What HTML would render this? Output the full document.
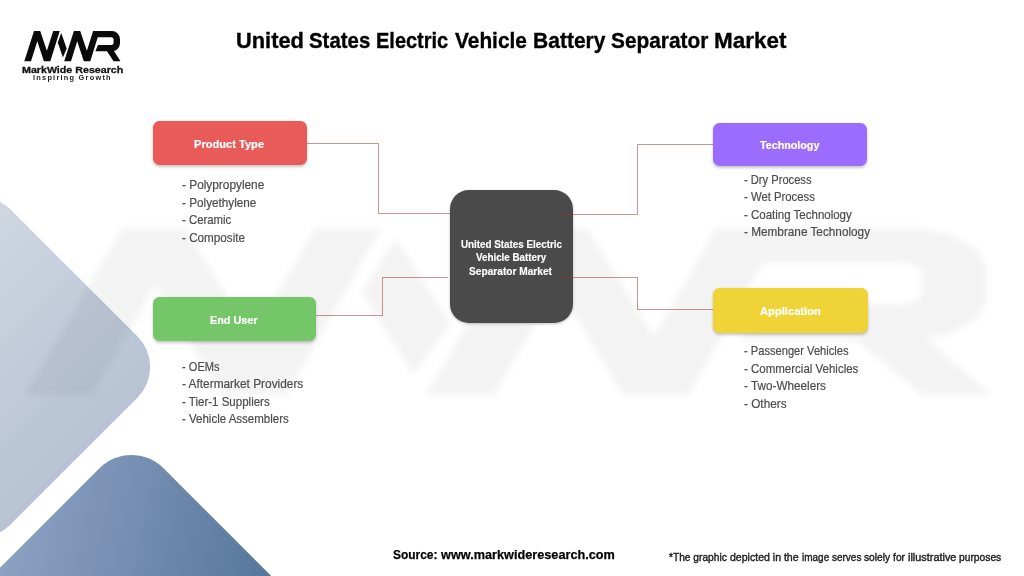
<!DOCTYPE html>
<html><head><meta charset="utf-8"><title>United States Electric Vehicle Battery Separator Market</title>
<style>
html,body{margin:0;padding:0;}
body{width:1024px;height:576px;position:relative;overflow:hidden;background:#fff;font-family:"Liberation Sans",sans-serif;}
.t{position:absolute;white-space:nowrap;transform-origin:0 50%;display:block;line-height:1;}
.box{position:absolute;border-radius:6.5px;box-shadow:0 1.5px 3px rgba(0,0,0,.22);}
svg{position:absolute;left:0;top:0;}
</style></head><body>
<svg width="1024" height="576" viewBox="0 0 1024 576">
 <defs>
  <linearGradient id="gl" x1="0" y1="200" x2="170" y2="370" gradientUnits="userSpaceOnUse">
   <stop offset="0" stop-color="#d0d7e1"/><stop offset="1" stop-color="#b6c2d3"/>
  </linearGradient>
  <linearGradient id="gd" gradientUnits="userSpaceOnUse" x1="0" y1="500" x2="280" y2="560">
   <stop offset="0" stop-color="#90a3c4"/><stop offset="1" stop-color="#56759b"/>
  </linearGradient>
  <filter id="bl" filterUnits="userSpaceOnUse" x="0" y="200" width="1024" height="230"><feGaussianBlur stdDeviation="3.5"/></filter>
  <g id="mwr">
   <polygon points="24.3,61.2 34,31.1 40.2,31.1 46.9,50.7 53.2,31.1 59.75,31.1 50.3,61.2 43.9,61.2 37.3,41.3 31.0,61.2"/>
   <polygon points="61.2,33.0 66.7,48.5 62.9,57.4 57.8,42.6"/>
   <polygon points="64.2,61.2 73.9,31.1 80.2,31.1 86.9,50.7 93.1,31.1 99.7,31.1 90.3,61.2 83.8,61.2 77.2,41.3 71.0,61.2"/>
   <path d="M96.6,37.25 H111.1 A2.5,2.5 0 0 1 113.6,39.75 V42.4 A2.5,2.5 0 0 1 111.1,44.9 H98 L95.4,51.3 H112 A8,8 0 0 0 120,43.3 V39.1 A8,8 0 0 0 112,31.1 H98.5 Z"/>
   <polygon points="103.7,46.3 113.6,61.2 120.5,61.2 110.9,46.3"/>
  </g>
 </defs>
 <!-- left decorative diamonds -->
 <clipPath id="cl"><rect x="-133" y="-133" width="266" height="266" rx="43" transform="translate(-20.1,367) rotate(45)"/></clipPath>
 <rect x="0" y="180" width="180" height="380" fill="url(#gl)" clip-path="url(#cl)"/>
 <clipPath id="cd"><rect x="-150" y="-150" width="300" height="300" rx="45" transform="translate(131.5,648.4) rotate(45)"/></clipPath>
 <rect x="0" y="430" width="300" height="146" fill="url(#gd)" clip-path="url(#cd)"/>
 <!-- watermark -->
 <g filter="url(#bl)"><g fill="#000" opacity="0.046" transform="translate(24,228) scale(10.05,5.55) translate(-24.2,-31.1)"><use href="#mwr"/></g></g>
 <!-- logo -->
 <g fill="#0a0a0a"><use href="#mwr"/></g>
</svg>
<div class="box" style="left:152.7px;top:121.4px;width:154px;height:43.2px;background:#e85b59"></div>
<div class="box" style="left:713.2px;top:122.7px;width:153.6px;height:43.2px;background:#9c6cff"></div>
<div class="box" style="left:152.7px;top:296.9px;width:163px;height:44px;background:#75c669"></div>
<div class="box" style="left:712.7px;top:288.3px;width:155px;height:44.4px;background:#efd337"></div>
<div class="box" style="left:450px;top:190.4px;width:123px;height:133px;background:#4a4a4a;border-radius:19px;box-shadow:0 1px 3px rgba(0,0,0,.25)"></div>
<svg width="1024" height="576" viewBox="0 0 1024 576" fill="none" stroke="rgb(160,50,50)" stroke-opacity="0.52" stroke-width="1" shape-rendering="crispEdges">
 <path d="M306.7,143.5 H378.5 V213.5 H450"/>
 <path d="M315.7,315.5 H382.5 V277.5 H448"/>
 <path d="M560,214.5 H637.5 V144.5 H713.2"/>
 <path d="M560,277.5 H637.5 V309.5 H712.7"/>
</svg>
<span class="t" id="t0" style="left:236.02px;top:30.07px;font-size:22.62px;font-weight:700;color:#000;-webkit-text-stroke:0.35px #000;transform:scaleX(0.9654)">United</span>
<span class="t" id="t1" style="left:309.23px;top:30.07px;font-size:22.62px;font-weight:700;color:#000;-webkit-text-stroke:0.35px #000;transform:scaleX(0.9026)">States</span>
<span class="t" id="t2" style="left:376.01px;top:30.07px;font-size:22.62px;font-weight:700;color:#000;-webkit-text-stroke:0.35px #000;transform:scaleX(0.8842)">Electric</span>
<span class="t" id="t3" style="left:455.09px;top:30.07px;font-size:22.62px;font-weight:700;color:#000;-webkit-text-stroke:0.35px #000;transform:scaleX(0.9231)">Vehicle</span>
<span class="t" id="t4" style="left:532.78px;top:30.07px;font-size:22.62px;font-weight:700;color:#000;-webkit-text-stroke:0.35px #000;transform:scaleX(0.9300)">Battery</span>
<span class="t" id="t5" style="left:611.23px;top:30.07px;font-size:22.62px;font-weight:700;color:#000;-webkit-text-stroke:0.35px #000;transform:scaleX(0.9212)">Separator</span>
<span class="t" id="t6" style="left:714.12px;top:30.07px;font-size:22.62px;font-weight:700;color:#000;-webkit-text-stroke:0.35px #000;transform:scaleX(0.9928)">Market</span>
<span class="t" id="b1" style="left:194.06px;top:139.08px;font-size:11.00px;font-weight:700;color:#fff;-webkit-text-stroke:0.2px #fff;transform:scaleX(1.0083)">Product Type</span>
<span class="t" id="b2" style="left:760.07px;top:140.08px;font-size:11.00px;font-weight:700;color:#fff;-webkit-text-stroke:0.2px #fff;transform:scaleX(0.9746)">Technology</span>
<span class="t" id="b3" style="left:210.09px;top:315.08px;font-size:11.00px;font-weight:700;color:#fff;-webkit-text-stroke:0.2px #fff;transform:scaleX(0.9813)">End User</span>
<span class="t" id="b4" style="left:759.90px;top:306.08px;font-size:11.00px;font-weight:700;color:#fff;-webkit-text-stroke:0.2px #fff;transform:scaleX(1.0160)">Application</span>
<span class="t" id="l11" style="left:181.96px;top:179.10px;font-size:12.15px;font-weight:400;color:#4d4d4d;-webkit-text-stroke:0.2px #4d4d4d;transform:scaleX(0.9753)">- Polypropylene</span>
<span class="t" id="l12" style="left:181.97px;top:197.00px;font-size:12.15px;font-weight:400;color:#4d4d4d;-webkit-text-stroke:0.2px #4d4d4d;transform:scaleX(0.9666)">- Polyethylene</span>
<span class="t" id="l13" style="left:181.96px;top:214.15px;font-size:12.15px;font-weight:400;color:#4d4d4d;-webkit-text-stroke:0.2px #4d4d4d;transform:scaleX(0.9371)">- Ceramic</span>
<span class="t" id="l14" style="left:181.95px;top:232.09px;font-size:12.15px;font-weight:400;color:#4d4d4d;-webkit-text-stroke:0.2px #4d4d4d;transform:scaleX(0.9622)">- Composite</span>
<span class="t" id="l21" style="left:743.95px;top:174.01px;font-size:12.15px;font-weight:400;color:#4d4d4d;-webkit-text-stroke:0.2px #4d4d4d;transform:scaleX(0.9179)">- Dry Process</span>
<span class="t" id="l22" style="left:743.91px;top:191.20px;font-size:12.15px;font-weight:400;color:#4d4d4d;-webkit-text-stroke:0.2px #4d4d4d;transform:scaleX(0.9327)">- Wet Process</span>
<span class="t" id="l23" style="left:743.97px;top:209.03px;font-size:12.15px;font-weight:400;color:#4d4d4d;-webkit-text-stroke:0.2px #4d4d4d;transform:scaleX(0.9466)">- Coating Technology</span>
<span class="t" id="l24" style="left:743.99px;top:226.00px;font-size:12.15px;font-weight:400;color:#4d4d4d;-webkit-text-stroke:0.2px #4d4d4d;transform:scaleX(0.9692)">- Membrane Technology</span>
<span class="t" id="l31" style="left:182.04px;top:361.09px;font-size:12.15px;font-weight:400;color:#4d4d4d;-webkit-text-stroke:0.2px #4d4d4d;transform:scaleX(0.9129)">- OEMs</span>
<span class="t" id="l32" style="left:182.08px;top:378.30px;font-size:12.15px;font-weight:400;color:#4d4d4d;-webkit-text-stroke:0.2px #4d4d4d;transform:scaleX(0.9768)">- Aftermarket Providers</span>
<span class="t" id="l33" style="left:182.08px;top:396.03px;font-size:12.15px;font-weight:400;color:#4d4d4d;-webkit-text-stroke:0.2px #4d4d4d;transform:scaleX(0.9487)">- Tier-1 Suppliers</span>
<span class="t" id="l34" style="left:182.09px;top:413.03px;font-size:12.15px;font-weight:400;color:#4d4d4d;-webkit-text-stroke:0.2px #4d4d4d;transform:scaleX(0.9476)">- Vehicle Assemblers</span>
<span class="t" id="l41" style="left:743.95px;top:345.07px;font-size:12.15px;font-weight:400;color:#4d4d4d;-webkit-text-stroke:0.2px #4d4d4d;transform:scaleX(0.9164)">- Passenger Vehicles</span>
<span class="t" id="l42" style="left:743.90px;top:362.93px;font-size:12.15px;font-weight:400;color:#4d4d4d;-webkit-text-stroke:0.2px #4d4d4d;transform:scaleX(0.9470)">- Commercial Vehicles</span>
<span class="t" id="l43" style="left:743.98px;top:380.00px;font-size:12.15px;font-weight:400;color:#4d4d4d;-webkit-text-stroke:0.2px #4d4d4d;transform:scaleX(0.9665)">- Two-Wheelers</span>
<span class="t" id="l44" style="left:743.97px;top:398.00px;font-size:12.15px;font-weight:400;color:#4d4d4d;-webkit-text-stroke:0.2px #4d4d4d;transform:scaleX(0.9706)">- Others</span>
<span class="t" id="c1" style="left:460.85px;top:240.04px;font-size:10.10px;font-weight:700;color:#fff;-webkit-text-stroke:0.15px #fff;transform:scaleX(0.9732)">United States Electric</span>
<span class="t" id="c2" style="left:476.01px;top:253.09px;font-size:10.10px;font-weight:700;color:#fff;-webkit-text-stroke:0.15px #fff;transform:scaleX(0.9708)">Vehicle Battery</span>
<span class="t" id="c3" style="left:469.14px;top:267.06px;font-size:10.10px;font-weight:700;color:#fff;-webkit-text-stroke:0.15px #fff;transform:scaleX(1.0065)">Separator Market</span>
<span class="t" id="s0" style="left:393.21px;top:547.98px;font-size:13.60px;font-weight:700;color:#000;-webkit-text-stroke:0.25px #000;transform:scaleX(0.8793)">Source:</span>
<span class="t" id="s1" style="left:440.95px;top:547.97px;font-size:13.60px;font-weight:700;color:#000;-webkit-text-stroke:0.25px #000;transform:scaleX(0.9340)">www.markwideresearch.com</span>
<span class="t" id="d0" style="left:669.15px;top:552.05px;font-size:10.90px;font-weight:400;color:#222;-webkit-text-stroke:0.4px #222;transform:scaleX(0.9359)">*The graphic</span>
<span class="t" id="d1" style="left:730.02px;top:552.08px;font-size:10.90px;font-weight:400;color:#222;-webkit-text-stroke:0.4px #222;transform:scaleX(0.9684)">depicted in the</span>
<span class="t" id="d2" style="left:802.03px;top:552.07px;font-size:10.90px;font-weight:400;color:#222;-webkit-text-stroke:0.4px #222;transform:scaleX(0.9172)">image serves</span>
<span class="t" id="d3" style="left:864.07px;top:552.05px;font-size:10.90px;font-weight:400;color:#222;-webkit-text-stroke:0.4px #222;transform:scaleX(0.9408)">solely for</span>
<span class="t" id="d4" style="left:908.02px;top:552.08px;font-size:10.90px;font-weight:400;color:#222;-webkit-text-stroke:0.4px #222;transform:scaleX(0.9994)">illustrative</span>
<span class="t" id="d5" style="left:958.92px;top:551.85px;font-size:10.90px;font-weight:400;color:#222;-webkit-text-stroke:0.4px #222;transform:scaleX(0.9433)">purposes</span>
<span class="t" id="lg1" style="left:22.08px;top:66.07px;font-size:9.30px;font-weight:700;color:#111;-webkit-text-stroke:0.3px #111;transform:scaleX(1.1472)">MarkWide Research</span>
<span class="t" id="lg2" style="left:33.28px;top:74.98px;font-size:6.55px;font-weight:700;color:#222;letter-spacing:1.1px;transform:scaleX(1.1267)">Inspiring Growth</span>
</body></html>
